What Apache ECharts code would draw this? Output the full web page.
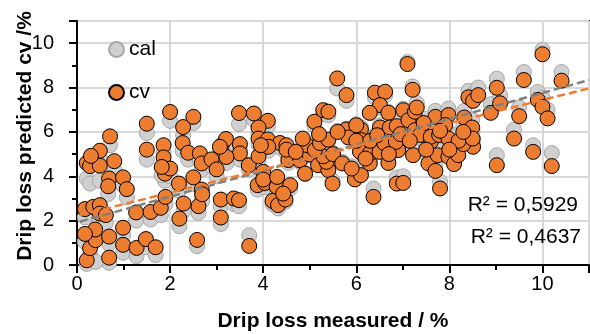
<!DOCTYPE html>
<html>
<head>
<meta charset="utf-8">
<script src="https://cdn.jsdelivr.net/npm/echarts@6/dist/echarts.min.js"></script>
<style>html,body{margin:0;padding:0;background:#fff}#c{width:590px;height:334px}</style>
</head>
<body>
<div id="c"></div>
<script>
// measured drip loss (%)
var measured = [0.21,0.69,0.28,0.40,0.39,0.17,0.69,0.99,0.99,0.17,0.35,0.49,0.49,0.62,0.69,0.67,0.99,1.07,0.21,0.28,0.49,0.49,0.30,0.80,0.71,
1.28,1.48,1.69,1.27,1.58,1.80,1.90,1.50,1.50,1.86,1.86,1.89,2.00,1.82,2.00,2.20,2.19,2.28,2.27,2.39,2.50,2.64,2.29,2.61,2.58,
2.50,2.68,2.89,3.00,2.68,2.69,3.09,3.09,3.37,3.48,3.11,3.20,3.50,3.50,3.21,3.07,3.48,3.70,3.80,4.10,3.90,3.90,4.10,4.36,4.50,
3.69,3.90,4.00,3.88,4.04,4.00,4.29,4.30,4.58,4.20,4.32,4.48,4.43,4.54,4.11,4.79,4.90,5.00,4.95,4.50,3.95,5.18,5.40,5.36,5.29,
5.50,5.49,5.70,5.97,6.10,5.90,5.11,5.22,5.40,5.10,5.29,5.40,5.59,5.79,5.79,5.83,6.10,6.11,6.11,6.08,6.29,6.29,6.37,6.40,6.62,
6.51,6.29,6.69,6.51,6.72,6.50,6.69,6.90,6.87,6.87,6.00,6.30,6.60,6.85,7.01,7.10,7.21,7.12,7.26,7.30,7.26,7.37,7.22,7.01,7.55,
7.70,7.80,7.75,7.98,7.60,7.70,7.98,7.91,7.60,7.78,7.98,8.10,8.19,8.51,8.30,8.20,8.32,8.49,8.41,8.51,8.62,8.50,8.89,9.02,9.09,
9.02,9.39,9.50,9.60,9.80,9.90,10.00,10.00,10.11,10.20,10.41,6.00,6.45,6.95,7.15,5.60,5.20,4.70,7.45,7.50,8.00,6.70,6.20,4.85,7.80,8.30];
// predicted, cross-validation
var predCv = [0.21,0.33,0.76,1.12,1.60,1.40,1.28,1.68,0.91,2.52,2.62,2.70,2.32,2.25,3.90,3.55,3.95,3.42,4.60,4.46,4.48,5.15,4.92,4.68,5.80,
0.77,1.17,0.80,2.37,2.39,2.58,3.07,6.37,5.20,5.40,4.85,4.12,4.35,4.42,6.90,2.09,3.67,6.22,5.50,5.06,6.68,5.03,2.77,2.65,1.13,
3.95,4.58,4.76,4.31,3.40,3.19,2.14,2.95,3.00,2.92,5.40,5.68,5.45,5.03,4.87,5.33,6.85,0.86,6.83,6.50,6.20,5.70,5.66,5.50,5.40,
4.50,4.90,4.20,3.60,3.70,3.85,3.52,3.97,3.60,2.89,2.70,2.95,3.22,4.73,5.33,4.72,4.12,4.98,5.40,5.20,5.40,4.50,4.28,4.65,4.90,
5.00,3.67,4.58,3.86,4.05,4.35,5.18,5.50,5.65,6.46,6.98,6.91,8.41,7.66,6.11,5.75,6.11,5.63,5.40,5.10,4.58,5.03,3.07,7.77,7.81,
7.21,6.86,6.86,6.20,6.20,5.10,4.60,5.18,6.26,3.67,5.60,5.60,5.50,5.55,6.98,9.06,7.90,6.53,6.91,7.10,6.08,5.86,4.95,3.70,4.58,
4.24,3.45,4.95,4.88,5.55,6.68,6.76,6.31,5.78,5.86,5.70,4.55,4.95,5.33,5.45,5.60,6.65,6.20,7.56,7.40,7.66,5.70,6.86,7.99,7.29,
4.50,5.70,6.71,8.34,5.10,7.44,7.13,9.50,6.61,4.46,8.31,6.30,5.85,5.90,5.60,6.00,5.90,5.10,6.40,5.20,5.20,5.00,4.80,5.70,6.05,6.00];
// predicted, calibration
var predCal = [0.05,0.10,0.45,0.14,1.25,1.05,0.95,1.35,0.55,2.15,2.30,2.40,1.95,1.90,3.55,3.20,3.60,3.05,3.90,3.67,3.80,4.80,4.55,4.30,5.40,
0.40,0.80,0.45,2.00,2.05,2.25,2.75,5.95,4.75,5.05,4.50,3.80,4.00,4.05,6.50,1.75,3.35,5.85,5.15,4.75,6.40,4.70,2.45,2.35,0.85,
3.65,4.30,4.45,4.00,3.10,2.90,1.85,2.65,2.75,2.65,5.10,5.35,5.20,4.75,4.60,5.05,6.35,1.34,6.55,6.25,5.90,5.45,5.45,5.30,5.20,
4.30,4.70,4.00,3.40,3.50,3.65,3.35,3.80,3.45,2.75,2.55,2.85,3.10,4.60,5.15,4.65,4.10,4.95,5.35,5.05,5.20,4.55,4.35,4.70,4.90,
5.05,3.80,4.65,4.05,4.20,4.45,5.20,5.50,5.60,6.30,6.80,6.75,7.96,7.40,6.15,5.85,6.20,5.75,5.50,5.20,4.70,5.15,3.45,7.55,7.65,
7.10,6.85,6.90,6.30,6.35,5.25,4.80,5.35,6.40,3.95,5.70,5.75,5.65,5.70,7.05,9.15,8.05,6.70,7.10,7.30,6.30,6.05,5.20,4.00,4.85,
4.55,3.75,5.20,5.15,5.80,6.95,7.05,6.60,6.05,6.15,6.00,4.85,5.25,5.65,5.80,5.90,6.95,6.55,7.85,7.70,8.00,6.05,7.25,8.40,7.65,
4.95,6.10,7.10,8.70,5.40,7.80,7.55,9.70,7.00,5.05,8.70,6.35,5.95,6.05,5.80,6.05,5.85,5.00,6.60,5.45,5.50,5.15,4.90,5.60,6.35,6.30];
// trend lines: x endpoints and y endpoints
var trendX = [0.06, 11];
var trendCal = [1.95, 8.34];
var trendCv = [2.25, 7.96];
var xTicks = [0, 2, 4, 6, 8, 10];
var yTicks = [0, 2, 4, 6, 8, 10];
var r2Texts = ['R\u00b2 = 0,5929', 'R\u00b2 = 0,4637'];

var FONT = 'Liberation Sans, Arial, Helvetica, sans-serif';
var calData = measured.map(function (x, i) { return [x, predCal[i]]; });
var cvData = measured.map(function (x, i) { return [x, predCv[i]]; });

var chart = echarts.init(document.getElementById('c'), null, {renderer: 'canvas'});
var axisCommon = {
  type: 'value', min: 0, max: 11, interval: 2,
  axisLine: {show: true, onZero: false, lineStyle: {color: '#000', width: 2}},
  axisTick: {show: true, inside: false, length: 8, lineStyle: {color: '#000', width: 2}},
  minorTick: {show: true, splitNumber: 2, length: 5, lineStyle: {color: '#000', width: 2}},
  splitLine: {show: true, lineStyle: {color: '#D9D9D9', width: 2}},
  minorSplitLine: {show: false},
  axisLabel: {color: '#000', fontSize: 20, fontFamily: FONT, showMaxLabel: false,
    formatter: function (v) { return xTicks.indexOf(v) >= 0 ? String(v) : ''; }}
};
chart.setOption({
  animation: false,
  backgroundColor: '#fff',
  grid: {left: 77, right: 1, top: 21, bottom: 69, show: true, borderColor: '#000', borderWidth: 2, backgroundColor: 'transparent'},
  xAxis: echarts.util.merge({axisLabel: {margin: 9}}, axisCommon, false),
  yAxis: echarts.util.merge({axisLabel: {margin: 23,
    formatter: function (v) { return yTicks.indexOf(v) >= 0 ? String(v) : ''; }}}, axisCommon, false),
  legend: {
    orient: 'vertical', left: 103, top: 34, itemWidth: 15, itemHeight: 15, itemGap: 22,
    icon: 'circle', selectedMode: false,
    textStyle: {color: '#000', fontSize: 21, fontFamily: FONT},
    data: ['cal', 'cv']
  },
  series: [
    {name: 'cal', type: 'scatter', symbol: 'circle', symbolSize: 15, data: calData, z: 2,
     itemStyle: {color: '#D0D0D0', borderColor: '#A8A8A8', borderWidth: 1, opacity: 1}},
    {name: 'cv', type: 'scatter', symbol: 'circle', symbolSize: 15, data: cvData, z: 3,
     itemStyle: {color: '#ED7D31', borderColor: '#000', borderWidth: 1, opacity: 1}},
    {name: 'calTrend', type: 'line', showSymbol: false, symbol: 'none', z: 4, silent: true,
     data: [[trendX[0], trendCal[0]], [trendX[1], trendCal[1]]],
     lineStyle: {color: '#808080', width: 2.5, type: [8, 4]}},
    {name: 'cvTrend', type: 'line', showSymbol: false, symbol: 'none', z: 4, silent: true,
     data: [[trendX[0], trendCv[0]], [trendX[1], trendCv[1]]],
     lineStyle: {color: '#ED7D31', width: 2.5, type: [8, 4]}}
  ],
  graphic: [
    {type: 'text', x: 333, y: 321, z: 10,
     style: {text: 'Drip loss measured / %', font: 'bold 21px ' + FONT, fill: '#000', align: 'center', verticalAlign: 'middle'}},
    {type: 'text', x: 25, y: 136, rotation: Math.PI / 2, z: 10,
     style: {text: 'Drip loss predicted cv /%', font: 'bold 21px ' + FONT, fill: '#000', align: 'center', verticalAlign: 'middle'}},
    {type: 'text', x: 578, y: 205, z: 10,
     style: {text: r2Texts[0], font: '21px ' + FONT, fill: '#000', align: 'right', verticalAlign: 'middle'}},
    {type: 'text', x: 581, y: 237, z: 10,
     style: {text: r2Texts[1], font: '21px ' + FONT, fill: '#000', align: 'right', verticalAlign: 'middle'}}
  ]
});
</script>
</body>
</html>
